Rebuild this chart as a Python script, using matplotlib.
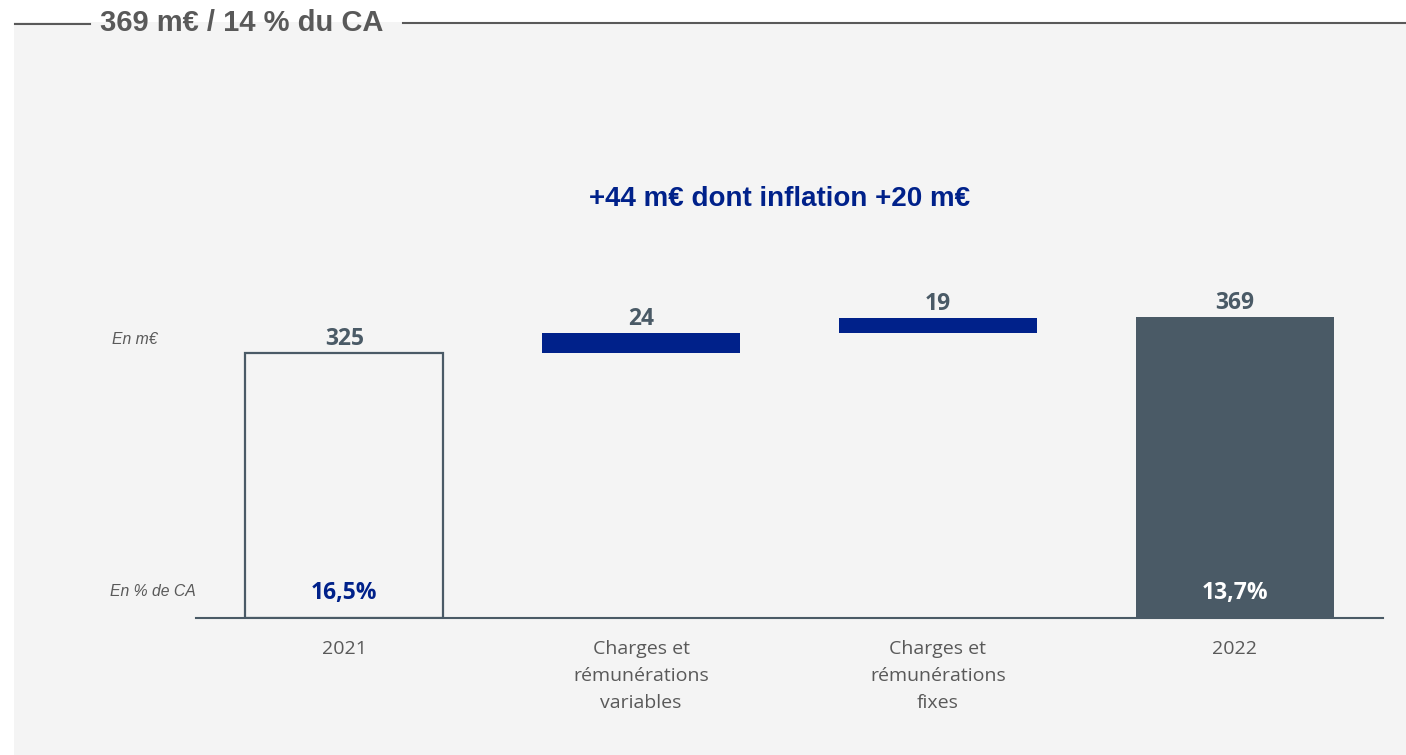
import matplotlib.pyplot as plt
from matplotlib.patches import Rectangle
from matplotlib.lines import Line2D

categories = ["2021", "Charges et\nrémunérations\nvariables", "Charges et\nrémunérations\nfixes", "2022"]
start_value = 325
steps = [24, 19]
end_value = 369
value_labels = ["325", "24", "19", "369"]
pct_labels = ["16,5%", "", "", "13,7%"]

title = "369 m€ / 14 % du CA"
subtitle = "+44 m€ dont inflation +20 m€"

W, H = 1406, 755
fig = plt.figure(figsize=(W / 100, H / 100), dpi=100)
fig.patch.set_facecolor("white")

bg = "#f4f4f4"
slate = "#4a5a66"
navy = "#00218a"
grey_txt = "#595959"

fig.patches.append(Rectangle((14 / W, 0), 1 - 14 / W, 1 - 22 / H, transform=fig.transFigure,
                             facecolor=bg, edgecolor="none", zorder=-5))
fig.lines.append(Line2D([15 / W, 90 / W], [1 - 24 / H] * 2, transform=fig.transFigure,
                        color="#595959", lw=1.5))
fig.lines.append(Line2D([403 / W, 1], [1 - 23 / H] * 2, transform=fig.transFigure,
                        color="#595959", lw=1.5))
fig.text(100 / W, 1 - 23 / H, title, fontsize=21, fontweight="bold", color="#595959",
         family="Liberation Sans", va="center", ha="left")

# axes: baseline at y=618, x from 196 to 1383
ax = fig.add_axes([196 / W, 1 - 618 / H, (1383 - 196) / W, (618 - 22) / H])
ax.set_facecolor("none")
ax.set_xlim(-0.5, 3.5)
ax.set_ylim(0, (618 - 22) / 0.8155)

x = range(len(categories))
w = 0.667

# 2021 outlined bar
ax.bar(0, start_value, width=w, facecolor=bg, edgecolor=slate, linewidth=1.6, zorder=2)
# floating steps
bottom = start_value
for i, s in enumerate(steps):
    ax.bar(i + 1, s, bottom=bottom, width=w, color=navy, zorder=2)
    bottom += s
# 2022 bar
ax.bar(3, end_value, width=w, color=slate, zorder=2)

tops = [start_value, start_value + steps[0], start_value + steps[0] + steps[1], end_value]
for i, (t, lab) in enumerate(zip(tops, value_labels)):
    ax.annotate(lab, (i, t), xytext=(0, 1.5), textcoords="offset points", ha="center", va="bottom",
                fontsize=16.5, fontweight="bold", color=slate, family="Open Sans")

for i, lab in enumerate(pct_labels):
    if lab:
        ax.annotate(lab, (i, 0), xytext=(0, 18), textcoords="offset points", ha="center", va="center",
                    fontsize=16.5, fontweight="bold", color=navy if i == 0 else "white",
                    family="Open Sans", zorder=3)

for s in ["top", "left", "right"]:
    ax.spines[s].set_visible(False)
ax.spines["bottom"].set_color(slate)
ax.spines["bottom"].set_linewidth(1.5)
ax.set_yticks([])
ax.set_xticks(list(x))
ax.set_xticklabels(categories, fontsize=14, color=grey_txt, family="Open Sans", linespacing=1.65)
ax.tick_params(axis="x", length=0, pad=16)

fig.text(112 / W, 1 - 339 / H, "En m€", fontsize=11.3, style="italic", color=grey_txt,
         family="Liberation Sans", va="center", ha="left")
fig.text(110 / W, 1 - 591 / H, "En % de CA", fontsize=11.3, style="italic", color=grey_txt,
         family="Liberation Sans", va="center", ha="left")
fig.text(780 / W, 1 - 199 / H, subtitle, fontsize=20, fontweight="bold", color=navy,
         family="Liberation Sans", va="center", ha="center")

fig.savefig("out.png", dpi=100)
